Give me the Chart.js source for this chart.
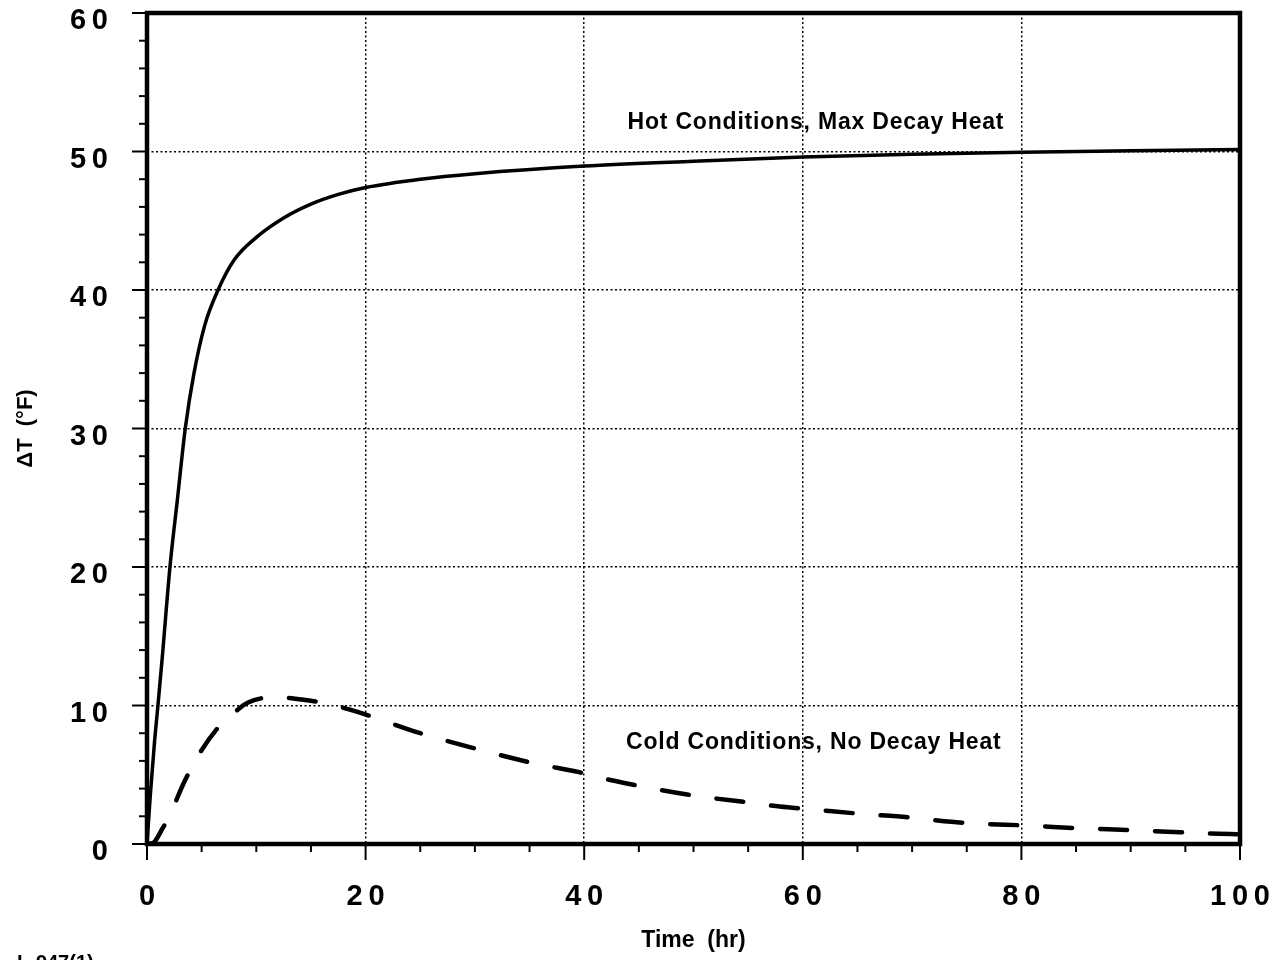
<!DOCTYPE html>
<html><head><meta charset="utf-8">
<style>html,body{margin:0;padding:0;background:#fff;overflow:hidden}#wrap{width:1287px;height:960px;position:relative;background:#fff}</style>
<script src="https://cdn.jsdelivr.net/npm/chart.js@4.4.1/dist/chart.umd.min.js"></script>
</head><body><div id="wrap"><canvas id="c" width="1287" height="960"></canvas></div>
<script>
// ---- data ----
const hotTime = [0, 0.3, 0.7, 1.0, 1.4, 2.1, 2.8, 3.5, 4.3, 5.3, 6.5, 8, 10, 12.5, 15, 17.5, 20, 25, 30, 40, 50, 60, 70, 80, 90, 100];
const hotDT   = [0, 3.5, 7.5, 10, 13.5, 20, 25, 30, 34, 37.5, 40, 42.2, 43.8, 45.2, 46.2, 46.9, 47.4, 48.0, 48.4, 48.95, 49.3, 49.6, 49.8, 49.95, 50.05, 50.15];
const coldTime = [0, 0.6, 1.4, 2.1, 3.3, 4.7, 6.6, 8, 9.2, 11.7, 14.5, 16.7, 19.4, 25, 30, 35, 40, 42.5, 45.3, 50, 55, 57.9, 60.8, 65, 70, 73.6, 76.7, 80, 85, 90, 94.5, 97.3, 100];
const coldDT   = [0, 0.1, 1.1, 2.1, 4.3, 6.4, 8.5, 9.5, 10.2, 10.6, 10.4, 10.1, 9.5, 8.0, 6.9, 5.9, 5.1, 4.6, 4.15, 3.5, 3.0, 2.7, 2.5, 2.2, 1.9, 1.6, 1.45, 1.35, 1.15, 1.0, 0.85, 0.75, 0.7];
const xTickValues = [0, 20, 40, 60, 80, 100];
const yTickValues = [0, 10, 20, 30, 40, 50, 60];
const xMinorStep = 5;
const yMinorStep = 2;
const seriesNames = ['Hot Conditions, Max Decay Heat', 'Cold Conditions, No Decay Heat'];
const xTitle = 'Time  (hr)';
const yTitle = '\u0394T  (\u00B0F)';
const footnote = 'L-947(1)';

const FONT = '"Liberation Sans", Arial, Helvetica, sans-serif';
const spaced = v => String(v).split('').join('\u2009');

const decor = {
  id: 'decor',
  afterDraw(chart) {
    const ctx = chart.ctx, a = chart.chartArea, xs = chart.scales.x, ys = chart.scales.y;
    ctx.save();
    ctx.strokeStyle = '#000';
    ctx.lineCap = 'butt';
    ctx.lineWidth = 2;
    for (let v = xs.min; v <= xs.max + 1e-9; v += xMinorStep) {
      const px = xs.getPixelForValue(v);
      const len = xTickValues.includes(v) ? 16 : 8;
      ctx.beginPath(); ctx.moveTo(px, a.bottom); ctx.lineTo(px, a.bottom + len); ctx.stroke();
    }
    for (let v = ys.min; v <= ys.max + 1e-9; v += yMinorStep) {
      const py = ys.getPixelForValue(v);
      const len = yTickValues.includes(v) ? 15 : 8;
      ctx.beginPath(); ctx.moveTo(a.left, py); ctx.lineTo(a.left - len, py); ctx.stroke();
    }
    ctx.lineWidth = 4.5;
    ctx.strokeRect(a.left, a.top, a.right - a.left, a.bottom - a.top);
    ctx.fillStyle = '#000';
    ctx.font = 'bold 23px ' + FONT;
    ctx.letterSpacing = '0.8px';
    ctx.textAlign = 'center';
    ctx.textBaseline = 'middle';
    ctx.fillText(seriesNames[0], xs.getPixelForValue(61.2), ys.getPixelForValue(52.1));
    ctx.fillText(seriesNames[1], xs.getPixelForValue(61.0), ys.getPixelForValue(7.3));
    ctx.letterSpacing = '0px';
    ctx.textAlign = 'left';
    ctx.textBaseline = 'top';
    ctx.font = 'bold 20px ' + FONT;
    ctx.fillText(footnote, 17, 953);
    ctx.restore();
  }
};

new Chart(document.getElementById('c'), {
  type: 'line',
  data: {
    datasets: [
      {
        label: seriesNames[0],
        data: hotTime.map((t, i) => ({x: t, y: hotDT[i]})),
        borderColor: '#000', borderWidth: 3.5, pointRadius: 0,
        cubicInterpolationMode: 'monotone', fill: false
      },
      {
        label: seriesNames[1],
        data: coldTime.map((t, i) => ({x: t, y: coldDT[i]})),
        borderColor: '#000', borderWidth: 4.5, pointRadius: 0,
        borderDash: [27, 28], borderCapStyle: 'round',
        cubicInterpolationMode: 'monotone', fill: false
      }
    ]
  },
  options: {
    responsive: false,
    animation: false,
    devicePixelRatio: 1,
    layout: { padding: { top: 13, right: 47, left: 0, bottom: 0 } },
    plugins: { legend: { display: false }, tooltip: { enabled: false } },
    scales: {
      x: {
        type: 'linear', min: 0, max: 100,
        afterBuildTicks: s => { s.ticks = xTickValues.map(v => ({value: v})); },
        afterFit: s => { s.height = 116; s.paddingLeft = 0; s.paddingRight = 0; },
        ticks: { autoSkip: false, maxRotation: 0, padding: 36, color: '#000',
                 font: { family: FONT, size: 29, weight: 'bold' }, callback: v => spaced(v) },
        grid: { color: '#000', lineWidth: 1.5, drawTicks: false },
        border: { display: false, dash: [2, 2.5] },
        title: { display: true, text: xTitle, color: '#000',
                 font: { family: FONT, size: 23, weight: 'bold' }, padding: { top: 0, bottom: 6 } }
      },
      y: {
        type: 'linear', min: 0, max: 60,
        afterBuildTicks: s => { s.ticks = yTickValues.map(v => ({value: v})); },
        afterFit: s => { s.width = 147; s.paddingTop = 0; s.paddingBottom = 0; },
        ticks: { autoSkip: false, padding: 39, labelOffset: 8, color: '#000',
                 font: { family: FONT, size: 29, weight: 'bold' }, callback: v => spaced(v) },
        grid: { color: '#000', lineWidth: 1.5, drawTicks: false },
        border: { display: false, dash: [2, 2.5] },
        title: { display: true, text: yTitle, color: '#000',
                 font: { family: FONT, size: 22, weight: 'bold' }, padding: { top: 13, bottom: 0 } }
      }
    }
  },
  plugins: [decor]
});
</script>
</body></html>
